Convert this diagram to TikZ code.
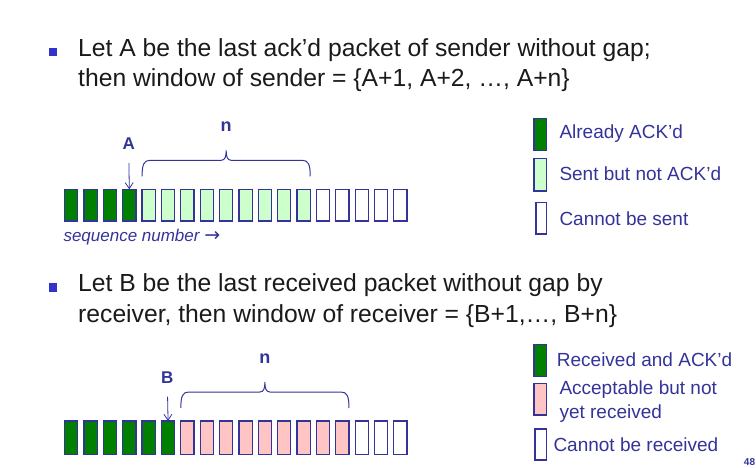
\documentclass[tikz,border=0pt]{standalone}
\usepackage{fontspec}
\setmainfont{Liberation Sans}
\newfontfamily\arrowfont{DejaVu Sans}
\usetikzlibrary{arrows.meta,calc}
\definecolor{navy}{HTML}{333399}
\definecolor{dkgreen}{HTML}{007F00}
\definecolor{ltgreen}{HTML}{CCFFCC}
\definecolor{pinkbox}{HTML}{FFC4C4}
\definecolor{bulletc}{HTML}{3333CC}
\definecolor{txt}{HTML}{1A1A1A}
\begin{document}
\begin{tikzpicture}[x=1pt,y=-1pt,
  pkt/.style={draw=navy,line width=1.2pt,minimum width=13.2pt,inner sep=0pt,outer sep=0pt,anchor=north west},
  dk/.style={pkt,fill=dkgreen},
  lt/.style={pkt,fill=ltgreen},
  pk/.style={pkt,fill=pinkbox},
  wh/.style={pkt,fill=white},
  bul/.style={fill=bulletc,draw=none,minimum size=8pt,inner sep=0pt,anchor=north west},
  title/.style={text=txt,font=\fontsize{24.7}{28}\selectfont,inner sep=0pt,anchor=base west},
  lgtext/.style={text=navy,font=\fontsize{19}{22}\selectfont,inner sep=0pt,anchor=west},
  lab/.style={text=navy,font=\fontsize{17}{19}\selectfont\bfseries,inner sep=0pt},
  arr/.style={draw=navy,line width=0.8pt,-{Straight Barb[length=6pt,width=8pt]}},
  brc/.style={draw=navy,line width=1pt}
]
\useasboundingbox (0,0) rectangle (756,468);

% ---------- bullet 1 ----------
\node[bul] (b1) at (48.3,48.3) {};
\node[title] (t1a) at (78,56.7) {Let A be the last ack’d packet of sender without gap;};
\node[title] (t1b) at (78,86.7) {then window of sender = \{A+1, A+2, …, A+n\}};

% ---------- sender row ----------
\foreach \i in {1,...,4}  {\pgfmathsetmacro\xx{64.6+(\i-1)*19.37}\node[dk,minimum height=31.7pt] (s\i) at (\xx,189.3) {};}
\foreach \i in {5,...,13} {\pgfmathsetmacro\xx{64.6+(\i-1)*19.37}\node[lt,minimum height=31.7pt] (s\i) at (\xx,189.3) {};}
\foreach \i in {14,...,18}{\pgfmathsetmacro\xx{64.6+(\i-1)*19.37}\node[wh,minimum height=31.7pt] (s\i) at (\xx,189.3) {};}

\node[lab] (A) at (128.7,144) {A};
\draw[arr,shorten <=13pt] (A.south) -- (s4.north);

\coordinate (sbl) at ($(s5.north west)+(0,-13)$);
\coordinate (sbr) at ($(s13.north east)+(0,-13)$);
\coordinate (sbm) at ($(sbl)!0.5!(sbr)$);
\draw[brc] (sbl) .. controls +(0,-12) and +(-6,0) .. ($(sbl)+(8,-16)$)
  -- ($(sbm)+(-5,-16)$) .. controls +(4,0) and +(0,6) .. ($(sbm)+(0,-26)$)
  .. controls +(0,6) and +(-4,0) .. ($(sbm)+(5,-16)$)
  -- ($(sbr)+(-8,-16)$) .. controls +(6,0) and +(0,-12) .. (sbr);
\node[lab,font=\fontsize{18}{20}\selectfont\bfseries] (n1) at ($(sbm)+(0,-50)$) {n};

\node[text=navy,font=\fontsize{17}{19}\selectfont\itshape,inner sep=0pt,anchor=base west] (seq) at (63.3,241.5) {sequence number {\arrowfont\upshape\fontsize{19}{19}\selectfont →}};

% ---------- sender legend ----------
\node[dk,minimum height=32.4pt,minimum width=12.2pt] (l1) at (533.9,118.3) {};
\node[lt,minimum height=32.7pt,minimum width=12.2pt] (l2) at (533.9,158.3) {};
\node[wh,minimum height=31.3pt,minimum width=10.2pt] (l3) at (535.9,202.7) {};
\node[lgtext] (l1t) at (559.3,134) {Already ACK’d};
\node[lgtext] (l2t) at (559.3,173.5) {Sent but not ACK’d};
\node[lgtext] (l3t) at (559.3,219) {Cannot be sent};

% ---------- bullet 2 ----------
\node[bul] (b2) at (48.3,283.3) {};
\node[title] (t2a) at (78,291.7) {Let B be the last received packet without gap by};
\node[title] (t2b) at (78,322.3) {receiver, then window of receiver = \{B+1,…, B+n\}};

% ---------- receiver row ----------
\foreach \i in {1,...,6}  {\pgfmathsetmacro\xx{64.6+(\i-1)*19.37}\node[dk,minimum height=33.3pt] (r\i) at (\xx,421) {};}
\foreach \i in {7,...,15} {\pgfmathsetmacro\xx{64.6+(\i-1)*19.37}\node[pk,minimum height=33.3pt] (r\i) at (\xx,421) {};}
\foreach \i in {16,...,18}{\pgfmathsetmacro\xx{64.6+(\i-1)*19.37}\node[wh,minimum height=33.3pt] (r\i) at (\xx,421) {};}

\node[lab] (B) at (167.3,377.5) {B};
\draw[arr,shorten <=13pt] (B.south) -- (r6.north);

\coordinate (rbl) at ($(r7.north west)+(0,-13)$);
\coordinate (rbr) at ($(r15.north east)+(0,-13)$);
\coordinate (rbm) at ($(rbl)!0.5!(rbr)$);
\draw[brc] (rbl) .. controls +(0,-12) and +(-6,0) .. ($(rbl)+(8,-16)$)
  -- ($(rbm)+(-5,-16)$) .. controls +(4,0) and +(0,6) .. ($(rbm)+(0,-26)$)
  .. controls +(0,6) and +(-4,0) .. ($(rbm)+(5,-16)$)
  -- ($(rbr)+(-8,-16)$) .. controls +(6,0) and +(0,-12) .. (rbr);
\node[lab,font=\fontsize{18}{20}\selectfont\bfseries] (n2) at ($(rbm)+(0,-49)$) {n};

% ---------- receiver legend ----------
\node[dk,minimum height=32.4pt,minimum width=12.2pt] (m1) at (533.9,344.3) {};
\node[pk,minimum height=31.7pt,minimum width=12.2pt] (m2) at (533.9,383.3) {};
\node[wh,minimum height=31pt,minimum width=11.2pt] (m3) at (534.9,429) {};
\node[lgtext] (m1t) at (556.7,360) {Received and ACK’d};
\node[lgtext] (m2t) at (559.3,390) {Acceptable but not};
\node[lgtext] (m2u) at (559.3,414) {yet received};
\node[lgtext] (m3t) at (553.3,445) {Cannot be received};

\node[text=navy,font=\fontsize{10}{12}\selectfont\bfseries,inner sep=0pt] (pg) at (749.5,461.7) {48};
\end{tikzpicture}
\end{document}
